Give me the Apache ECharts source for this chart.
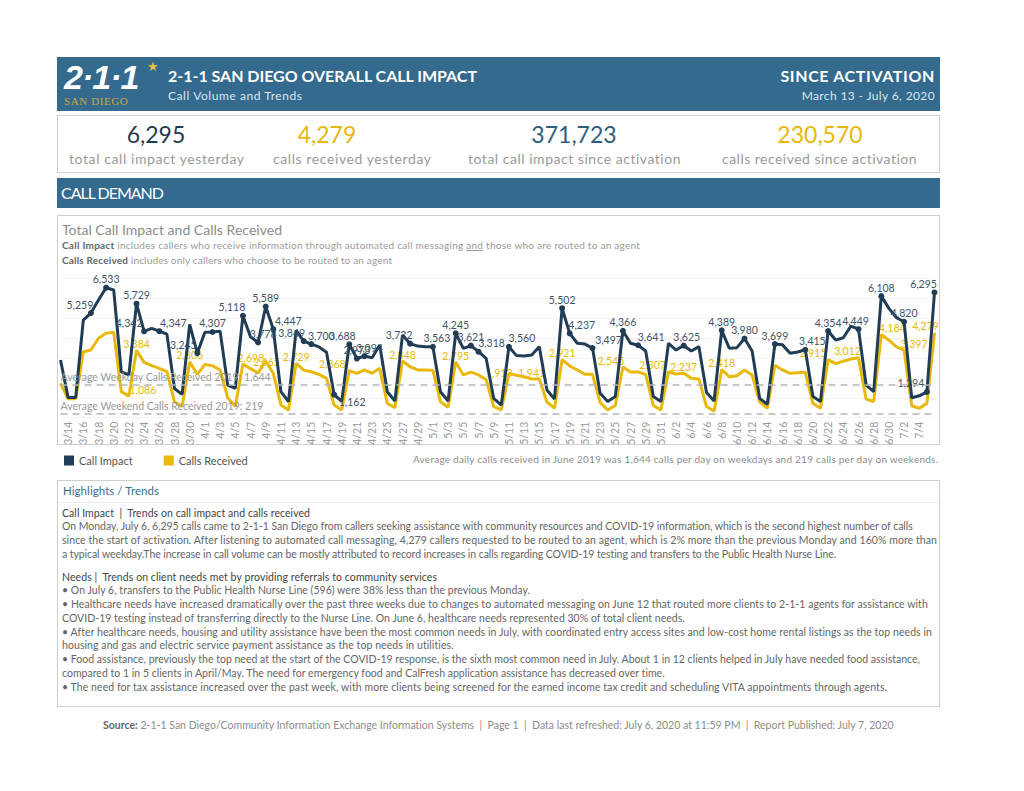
<!DOCTYPE html>
<html>
<head>
<meta charset="utf-8">
<script src="https://cdn.jsdelivr.net/npm/echarts@6/dist/echarts.min.js"></script>
<style>
  html,body{margin:0;padding:0;background:#fff;}
  body{width:1024px;height:791px;position:relative;overflow:hidden;font-family:Lato,"Open Sans","Noto Sans",sans-serif;}
  .abs{position:absolute;white-space:nowrap;}
  .band{position:absolute;background:#336a8e;}
  .box{position:absolute;border:1px solid #cfcfcf;box-sizing:border-box;}
  .fit{display:inline-block;}
  .hl{font-size:10.5px;color:#666;line-height:13px;}
  .sub{color:#444;}
</style>
</head>
<body>
<!-- header band -->
<div class="band" style="left:57px;top:57px;width:883px;height:54px;"></div>
<div class="abs" style="left:64px;top:58px;font-family:'Liberation Sans',sans-serif;font-weight:bold;font-style:italic;font-size:34px;color:#fff;letter-spacing:-1px;">2·1·1</div>
<div class="abs" style="left:147px;top:58px;font-size:13px;color:#e8c043;">★</div>
<div class="abs" style="left:64px;top:95px;font-family:'Liberation Serif',serif;font-size:11px;color:#c9a93e;letter-spacing:0.6px;">SAN DIEGO</div>
<div class="abs" style="left:168px;top:66px;font-size:16px;font-weight:bold;color:#fff;"><span class="fit" data-w="309">2-1-1 SAN DIEGO OVERALL CALL IMPACT</span></div>
<div class="abs" style="left:168px;top:88px;font-size:12px;color:#dbe6ee;"><span class="fit" data-w="134">Call Volume and Trends</span></div>
<div class="abs" style="right:89px;top:66px;font-size:16px;font-weight:bold;color:#fff;"><span class="fit" data-w="154">SINCE ACTIVATION</span></div>
<div class="abs" style="right:89px;top:88px;font-size:12px;color:#dbe6ee;"><span class="fit" data-w="133">March 13 - July 6, 2020</span></div>

<!-- KPI box -->
<div class="box" style="left:57px;top:115px;width:883px;height:58px;"></div>
<div class="abs" style="left:56px;width:200px;text-align:center;top:120px;font-size:23px;color:#1f3b53;">6,295</div>
<div class="abs" style="left:227px;width:200px;text-align:center;top:120px;font-size:23px;color:#e8b70c;">4,279</div>
<div class="abs" style="left:474px;width:200px;text-align:center;top:120px;font-size:23px;color:#2d5e7e;">371,723</div>
<div class="abs" style="left:720px;width:200px;text-align:center;top:120px;font-size:23px;color:#e8b70c;">230,570</div>
<div class="abs" style="left:69px;top:150px;font-size:14px;color:#9a9a9a;"><span class="fit" data-w="175">total call impact yesterday</span></div>
<div class="abs" style="left:273px;top:150px;font-size:14px;color:#9a9a9a;"><span class="fit" data-w="158">calls received yesterday</span></div>
<div class="abs" style="left:468px;top:150px;font-size:14px;color:#9a9a9a;"><span class="fit" data-w="213">total call impact since activation</span></div>
<div class="abs" style="left:722px;top:150px;font-size:14px;color:#9a9a9a;"><span class="fit" data-w="195">calls received since activation</span></div>

<!-- call demand band -->
<div class="band" style="left:57px;top:178px;width:883px;height:30px;"></div>
<div class="abs" style="left:61px;top:183px;font-size:16px;color:#fff;"><span class="fit" data-w="103">CALL DEMAND</span></div>

<!-- chart box -->
<div class="box" style="left:57px;top:215px;width:883px;height:230px;"></div>
<div class="abs" style="left:62px;top:221px;font-size:14px;color:#8c8c8c;"><span class="fit" data-w="220">Total Call Impact and Calls Received</span></div>
<div class="abs" style="left:62px;top:239px;font-size:10px;color:#9a9a9a;"><span class="fit" data-w="578"><b style="color:#666;">Call Impact</b> includes callers who receive information through automated call messaging <u>and</u> those who are routed to an agent</span></div>
<div class="abs" style="left:62px;top:254px;font-size:10px;color:#9a9a9a;"><span class="fit" data-w="330"><b style="color:#666;">Calls Received</b> includes only callers who choose to be routed to an agent</span></div>

<div id="chart" style="position:absolute;left:57px;top:265px;width:883px;height:205px;"></div>

<div class="abs" style="left:413px;top:453px;font-size:10px;color:#8c8c8c;"><span class="fit" data-w="525">Average daily calls received in June 2019 was 1,644 calls per day on weekdays and 219 calls per day on weekends.</span></div>

<!-- highlights box -->
<div class="box" style="left:57px;top:480px;width:883px;height:227px;"></div>
<div class="abs" style="left:63px;top:484px;font-size:11.5px;color:#3b6f93;"><span class="fit" data-w="96">Highlights / Trends</span></div>
<div class="abs" style="left:58px;top:502px;width:881px;height:1px;background:#ececec;"></div>
<div class="abs hl sub" style="left:62px;top:507px;"><span class="fit" data-w="248">Call Impact &nbsp;| &nbsp;Trends on call impact and calls received</span></div>
<div class="abs hl" style="left:62px;top:520px;"><span class="fit" data-w="851">On Monday, July 6, 6,295 calls came to 2-1-1 San Diego from callers seeking assistance with community resources and COVID-19 information, which is the second highest number of calls</span></div>
<div class="abs hl" style="left:62px;top:534px;"><span class="fit" data-w="875">since the start of activation. After listening to automated call messaging, 4,279 callers requested to be routed to an agent, which is 2% more than the previous Monday and 160% more than</span></div>
<div class="abs hl" style="left:62px;top:548px;"><span class="fit" data-w="774">a typical weekday.The increase in call volume can be mostly attributed to record increases in calls regarding COVID-19 testing and transfers to the Public Health Nurse Line.</span></div>
<div class="abs hl sub" style="left:62px;top:571px;"><span class="fit" data-w="375">Needs | &nbsp;Trends on client needs met by providing referrals to community services</span></div>
<div class="abs hl" style="left:62px;top:584px;"><span class="fit" data-w="468">• On July 6, transfers to the Public Health Nurse Line (596) were 38% less than the previous Monday.</span></div>
<div class="abs hl" style="left:62px;top:598px;"><span class="fit" data-w="866">• Healthcare needs have increased dramatically over the past three weeks due to changes to automated messaging on June 12 that routed more clients to 2-1-1 agents for assistance with</span></div>
<div class="abs hl" style="left:62px;top:612px;"><span class="fit" data-w="623">COVID-19 testing instead of transferring directly to the Nurse Line. On June 6, healthcare needs represented 30% of total client needs.</span></div>
<div class="abs hl" style="left:62px;top:626px;"><span class="fit" data-w="870">• After healthcare needs, housing and utility assistance have been the most common needs in July, with coordinated entry access sites and low-cost home rental listings as the top needs in</span></div>
<div class="abs hl" style="left:62px;top:639px;"><span class="fit" data-w="392">housing and gas and electric service payment assistance as the top needs in utilities.</span></div>
<div class="abs hl" style="left:62px;top:653px;"><span class="fit" data-w="858">• Food assistance, previously the top need at the start of the COVID-19 response, is the sixth most common need in July. About 1 in 12 clients helped in July have needed food assistance,</span></div>
<div class="abs hl" style="left:62px;top:667px;"><span class="fit" data-w="603">compared to 1 in 5 clients in April/May. The need for emergency food and CalFresh application assistance has decreased over time.</span></div>
<div class="abs hl" style="left:62px;top:681px;"><span class="fit" data-w="825">• The need for tax assistance increased over the past week, with more clients being screened for the earned income tax credit and scheduling VITA appointments through agents.</span></div>

<!-- footer -->
<div class="abs" style="left:103px;top:719px;font-size:10.5px;color:#8c8c8c;"><span class="fit" data-w="791"><b style="color:#666;">Source:</b> 2-1-1 San Diego/Community Information Exchange Information Systems &nbsp;| &nbsp;Page 1 &nbsp;| &nbsp;Data last refreshed: July 6, 2020 at 11:59 PM &nbsp;| &nbsp;Report Published: July 7, 2020</span></div>

<script>
// fit text widths to the reference
document.querySelectorAll('.fit').forEach(function(el){
  var target = +el.getAttribute('data-w');
  var w = el.getBoundingClientRect().width;
  var n = el.textContent.length;
  if (n > 1) el.style.letterSpacing = ((target - w) / (n - 1)) + 'px';
});

const dates = [
 "3/13","3/14","3/15","3/16","3/17","3/18","3/19","3/20","3/21","3/22","3/23","3/24","3/25","3/26","3/27","3/28","3/29","3/30","3/31",
 "4/1","4/2","4/3","4/4","4/5","4/6","4/7","4/8","4/9","4/10","4/11","4/12","4/13","4/14","4/15","4/16","4/17","4/18","4/19","4/20","4/21","4/22","4/23","4/24","4/25","4/26","4/27","4/28","4/29","4/30",
 "5/1","5/2","5/3","5/4","5/5","5/6","5/7","5/8","5/9","5/10","5/11","5/12","5/13","5/14","5/15","5/16","5/17","5/18","5/19","5/20","5/21","5/22","5/23","5/24","5/25","5/26","5/27","5/28","5/29","5/30","5/31",
 "6/1","6/2","6/3","6/4","6/5","6/6","6/7","6/8","6/9","6/10","6/11","6/12","6/13","6/14","6/15","6/16","6/17","6/18","6/19","6/20","6/21","6/22","6/23","6/24","6/25","6/26","6/27","6/28","6/29","6/30",
 "7/1","7/2","7/3","7/4","7/5","7/6"];

const callImpact = [2900,1010,1010,4900,5259,5910,6533,6420,2300,2150,
 5729,4342,4490,4347,4200,1470,1170,4690,3245,4290,
 4307,4350,1640,1470,5118,4070,3778,5589,4447,1306,
 805,4385,3849,3700,3560,3285,1162,820,3688,2973,
 3094,3010,3650,1306,840,4150,3722,3600,3570,3563,
 1306,840,4245,3480,3621,3318,2985,973,638,3560,
 3120,3100,3150,3570,1390,940,5502,4237,3740,3700,
 3497,1230,810,1060,4366,3740,3641,3350,1060,810,
 3740,3400,3625,3350,3570,1270,840,4389,3490,3520,
 3980,3350,970,670,3699,3660,3240,3300,3415,1060,
 810,4354,3900,4020,4600,4449,1640,1306,6108,5495,
 5025,4820,1000,1100,1294,6295];

const callsReceived = [1725,950,950,3316,3400,3990,4240,4290,1310,1086,
 3384,2780,2615,2480,2310,800,560,2806,2180,2680,
 2615,2400,1000,560,2698,2465,2250,2840,2230,640,
 390,2729,2390,2310,2180,1980,640,390,2368,2230,
 2400,2230,2480,720,500,2848,2560,2400,2400,2380,
 800,520,2795,2150,2290,2150,1913,560,390,2220,
 2130,2060,1941,1950,790,480,2921,2600,2400,2180,
 2180,770,390,610,2545,2300,2300,2170,610,390,
 2307,2190,2237,1980,1950,560,340,2418,2060,2110,
 2400,2150,800,470,2640,2400,2230,2260,2280,720,
 470,2915,2720,2840,2950,3012,940,810,4184,3900,
 3560,3397,600,470,720,4279];

const impactLabelIdx = [4,6,10,11,13,18,20,24,26,27,28,32,33,36,38,39,40,46,49,52,54,55,59,66,67,70,74,76,82,87,90,94,98,101,105,108,111,114,115];
const receivedLabelIdx = [9,10,17,24,25,31,38,45,52,56,62,66,74,80,82,87,101,105,108,111,115];

const avgWeekday2019 = 1644;
const avgWeekend2019 = 219;

// label nudges (layout only), in pixels
const impactLabelShift = {4:[-11,0],11:[-15,0],13:[14,0],18:[-14,0],24:[-11,0],26:[5,0],28:[15,0],32:[-12,0],33:[10,0],36:[18,16],38:[-7,0],40:[5,0],46:[-11,0],49:[4,0],55:[13,0],59:[13,0],67:[12,0],70:[16,0],76:[13,0],82:[3,0],98:[7,0],105:[-3,0],114:[-16,0],115:[-11,0]};
const receivedLabelShift = {9:[14,0],24:[8,0],25:[16,0],38:[-17,0],56:[13,0],74:[-12,0],80:[-16,0],101:[-15,0],105:[-11,0],108:[11,0],111:[10,0],115:[-9,0]};

const DARK = '#203d55', GOLD = '#e9b90a';
const fmt = v => v.toLocaleString('en-US');

const impactData = callImpact.map((v, i) => impactLabelIdx.includes(i)
  ? {value: v, symbolSize: 6, label: {show: true}}
  : {value: v, symbolSize: 0});
const receivedData = callsReceived.map((v, i) => receivedLabelIdx.includes(i)
  ? {value: v, label: {show: true}}
  : {value: v});

function shiftLayout(table) {
  return function(p) {
    const s = table[p.dataIndex];
    return s ? {dx: s[0], dy: s[1], hideOverlap: false} : {hideOverlap: false};
  };
}

const chart = echarts.init(document.getElementById('chart'), null, {renderer: 'svg'});
chart.setOption({
  animation: false,
  textStyle: {fontFamily: 'Lato, "Open Sans", sans-serif'},
  grid: {left: 3.5, right: 5.5, top: 13.4, bottom: 52.3},
  legend: {
    data: ['Call Impact', 'Calls Received'],
    left: 2, top: 185, icon: 'rect', itemWidth: 10, itemHeight: 10, itemGap: 31,
    textStyle: {fontSize: 11, color: '#555'}
  },
  xAxis: {
    type: 'category', data: dates, boundaryGap: false,
    axisLine: {show: false}, axisTick: {show: false},
    axisLabel: {rotate: 90, fontSize: 10.5, color: '#9a9a9a', margin: 4,
      interval: function(i){ return i % 2 === 1 && i < dates.length - 2; }}
  },
  yAxis: {
    type: 'value', min: 0, max: 7000, interval: 1000,
    axisLabel: {show: false}, axisLine: {show: false}, axisTick: {show: false},
    splitLine: {lineStyle: {color: '#f3f3f3', width: 1}}
  },
  series: [
    {
      name: 'Calls Received', type: 'line', data: receivedData,
      symbol: 'circle', symbolSize: 0, showAllSymbol: true, z: 2,
      itemStyle: {color: GOLD},
      lineStyle: {color: GOLD, width: 3},
      label: {show: false, position: 'top', distance: 1, color: GOLD, fontSize: 10.5,
        formatter: p => fmt(p.value)},
      labelLayout: shiftLayout(receivedLabelShift),
      markLine: {
        silent: true, symbol: 'none',
        lineStyle: {color: '#b5b5b5', type: [7, 5], width: 1.5},
        label: {position: 'insideStartTop', color: '#9a9a9a', fontSize: 10.5, distance: [0, 2]},
        data: [
          {yAxis: avgWeekday2019, label: {formatter: 'Average Weekday Calls Received 2019: ' + fmt(avgWeekday2019)}},
          {yAxis: avgWeekend2019, label: {formatter: 'Average Weekend Calls Received 2019: ' + fmt(avgWeekend2019)}}
        ]
      }
    },
    {
      name: 'Call Impact', type: 'line', data: impactData,
      symbol: 'circle', showAllSymbol: true, z: 3,
      itemStyle: {color: DARK},
      lineStyle: {color: DARK, width: 3},
      label: {show: false, position: 'top', distance: 0, color: '#3e5369', fontSize: 10.5,
        formatter: p => fmt(p.value)},
      labelLayout: shiftLayout(impactLabelShift)
    }
  ]
});
</script>
</body>
</html>
